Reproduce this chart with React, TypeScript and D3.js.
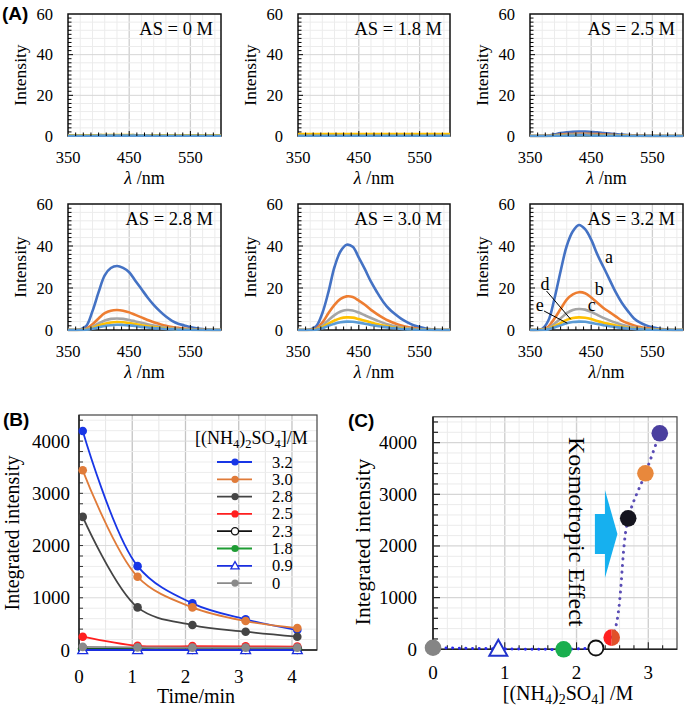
import React from 'react';
import * as d3 from 'd3';

// ---------- DATA ----------
const wavelengths = [350, 360, 370, 380, 390, 400, 410, 420, 430, 440, 450, 460, 470, 480, 490, 500, 510, 520, 530, 540, 550, 560, 570, 580, 590, 600];

// spectra a..e for each ammonium sulfate concentration
const spectraAS0 = [
  [0.3, 0.3, 0.3, 0.3, 0.3, 0.4, 0.4, 0.4, 0.4, 0.4, 0.4, 0.4, 0.3, 0.3, 0.3, 0.3, 0.3, 0.3, 0.3, 0.3, 0.3, 0.3, 0.3, 0.3, 0.3, 0.3],
  [0.2, 0.2, 0.2, 0.2, 0.2, 0.3, 0.3, 0.3, 0.3, 0.3, 0.3, 0.3, 0.2, 0.2, 0.2, 0.2, 0.2, 0.2, 0.2, 0.2, 0.2, 0.2, 0.2, 0.2, 0.2, 0.2],
  [0.2, 0.2, 0.2, 0.2, 0.2, 0.2, 0.2, 0.2, 0.2, 0.2, 0.2, 0.2, 0.2, 0.2, 0.2, 0.2, 0.2, 0.2, 0.2, 0.2, 0.2, 0.2, 0.2, 0.2, 0.2, 0.2],
  [0.3, 0.3, 0.3, 0.3, 0.3, 0.4, 0.5, 0.5, 0.5, 0.5, 0.5, 0.4, 0.4, 0.3, 0.3, 0.3, 0.3, 0.3, 0.3, 0.3, 0.3, 0.3, 0.3, 0.3, 0.3, 0.3],
  [0.1, 0.1, 0.1, 0.1, 0.1, 0.2, 0.2, 0.2, 0.2, 0.2, 0.2, 0.2, 0.2, 0.2, 0.1, 0.1, 0.1, 0.1, 0.1, 0.1, 0.1, 0.1, 0.1, 0.1, 0.1, 0.1],
];
const spectraAS18 = [
  [0.4, 0.4, 0.4, 0.4, 0.4, 0.4, 0.4, 0.4, 0.4, 0.4, 0.4, 0.4, 0.4, 0.4, 0.4, 0.4, 0.4, 0.4, 0.4, 0.4, 0.4, 0.4, 0.4, 0.4, 0.4, 0.4],
  [0.5, 0.5, 0.5, 0.5, 0.5, 0.5, 0.5, 0.5, 0.5, 0.5, 0.5, 0.5, 0.5, 0.5, 0.5, 0.5, 0.5, 0.5, 0.5, 0.5, 0.5, 0.5, 0.5, 0.5, 0.5, 0.5],
  [0.4, 0.4, 0.4, 0.4, 0.4, 0.4, 0.4, 0.4, 0.4, 0.4, 0.4, 0.4, 0.4, 0.4, 0.4, 0.4, 0.4, 0.4, 0.4, 0.4, 0.4, 0.4, 0.4, 0.4, 0.4, 0.4],
  [0.9, 0.9, 0.9, 0.9, 0.9, 0.9, 0.9, 0.9, 0.9, 0.9, 0.9, 0.9, 0.9, 0.9, 0.9, 0.9, 0.9, 0.9, 0.9, 0.9, 0.9, 0.9, 0.9, 0.9, 0.9, 0.9],
  [0.1, 0.1, 0.1, 0.1, 0.1, 0.1, 0.1, 0.1, 0.1, 0.1, 0.1, 0.1, 0.1, 0.1, 0.1, 0.1, 0.1, 0.1, 0.1, 0.1, 0.1, 0.1, 0.1, 0.1, 0.1, 0.1],
];
const spectraAS25 = [
  [0, 0, 0.05, 0.2, 0.8, 1.4, 1.8, 2.1, 2.2, 2.2, 2, 1.8, 1.5, 1.2, 0.9, 0.7, 0.5, 0.3, 0.2, 0.1, 0.05, 0, 0, 0, 0, 0],
  [0, 0, 0, 0.1, 0.4, 0.7, 0.9, 1, 1.1, 1.1, 1, 0.9, 0.7, 0.6, 0.5, 0.3, 0.2, 0.1, 0.1, 0, 0, 0, 0, 0, 0, 0],
  [0, 0, 0, 0, 0.2, 0.4, 0.6, 0.7, 0.7, 0.7, 0.6, 0.5, 0.4, 0.3, 0.2, 0.2, 0.1, 0, 0, 0, 0, 0, 0, 0, 0, 0],
  [0, 0, 0, 0, 0.1, 0.2, 0.3, 0.4, 0.4, 0.4, 0.3, 0.3, 0.2, 0.2, 0.1, 0.1, 0, 0, 0, 0, 0, 0, 0, 0, 0, 0],
  [0, 0, 0, 0, 0.1, 0.1, 0.2, 0.2, 0.3, 0.3, 0.2, 0.2, 0.1, 0.1, 0.1, 0, 0, 0, 0, 0, 0, 0, 0, 0, 0, 0],
];
const spectraAS28 = [
  [0, 0, 0.3, 2, 9, 18, 26, 29.5, 30.5, 29.6, 27.5, 23.5, 19.5, 15.5, 12, 9, 6.4, 4.4, 3, 2.2, 1.4, 0.8, 0.4, 0.2, 0.05, 0],
  [0, 0, 0.1, 0.6, 2.7, 5.5, 8, 9.2, 9.5, 9.2, 8.4, 7.2, 6, 4.8, 3.7, 2.8, 2, 1.4, 1, 0.7, 0.4, 0.2, 0.1, 0, 0, 0],
  [0, 0, 0.05, 0.4, 1.5, 3.1, 4.5, 5.3, 5.5, 5.3, 4.8, 4.1, 3.4, 2.7, 2.1, 1.6, 1.1, 0.8, 0.5, 0.3, 0.2, 0.1, 0, 0, 0, 0],
  [0, 0, 0, 0.2, 1, 2.1, 3, 3.6, 3.8, 3.7, 3.3, 2.8, 2.3, 1.8, 1.4, 1, 0.7, 0.5, 0.3, 0.2, 0.1, 0, 0, 0, 0, 0],
  [0, 0, 0, 0.1, 0.6, 1.3, 1.9, 2.3, 2.5, 2.4, 2.2, 1.9, 1.5, 1.2, 0.9, 0.7, 0.5, 0.3, 0.2, 0.1, 0.1, 0, 0, 0, 0, 0],
];
const spectraAS30 = [
  [0, 0, 0.2, 1.8, 8, 18, 30, 37.5, 40.6, 39.6, 34.5, 29, 23, 18, 13.5, 10, 7.5, 5.3, 3.6, 2.3, 1.4, 0.7, 0.3, 0.1, 0, 0],
  [0, 0, 0.1, 0.7, 3.5, 8, 12, 14.8, 16, 15.7, 14, 12, 9.6, 7.6, 5.8, 4.3, 3.1, 2.1, 1.4, 0.9, 0.5, 0.3, 0.1, 0, 0, 0],
  [0, 0, 0, 0.4, 2, 4.7, 7.1, 8.8, 9.5, 9.3, 8.3, 7, 5.7, 4.5, 3.4, 2.5, 1.8, 1.2, 0.8, 0.5, 0.3, 0.15, 0.05, 0, 0, 0],
  [0, 0, 0, 0.2, 1.3, 3, 4.5, 5.6, 6, 5.9, 5.2, 4.4, 3.6, 2.8, 2.1, 1.6, 1.1, 0.8, 0.5, 0.3, 0.2, 0.1, 0, 0, 0, 0],
  [0, 0, 0, 0.1, 0.8, 2, 3, 3.7, 4, 3.9, 3.5, 3, 2.4, 1.9, 1.5, 1.1, 0.8, 0.5, 0.3, 0.2, 0.1, 0.05, 0, 0, 0, 0],
];
const spectraAS32 = [
  [0, 0, 0.6, 4.5, 15, 28, 40, 47, 50, 48, 43, 36, 30, 24, 18, 13, 9, 5.5, 3.5, 2.2, 1.3, 0.7, 0.3, 0.1, 0, 0],
  [0, 0, 0.2, 1.6, 5.5, 10, 14.5, 17, 18, 17.5, 15.5, 13, 10.5, 8.5, 6.5, 4.5, 3.2, 2.2, 1.4, 0.9, 0.5, 0.3, 0.1, 0, 0, 0],
  [0, 0, 0.1, 0.9, 3, 5.5, 8, 9.5, 10, 9.7, 8.6, 7.2, 5.8, 4.6, 3.5, 2.5, 1.8, 1.2, 0.8, 0.5, 0.3, 0.1, 0, 0, 0, 0],
  [0, 0, 0.05, 0.5, 1.8, 3.3, 4.8, 5.7, 6, 5.8, 5.2, 4.3, 3.5, 2.8, 2.1, 1.5, 1.1, 0.7, 0.5, 0.3, 0.2, 0.1, 0, 0, 0, 0],
  [0, 0, 0, 0.3, 1.2, 2.2, 3.2, 3.8, 4, 3.9, 3.4, 2.9, 2.3, 1.8, 1.4, 1, 0.7, 0.5, 0.3, 0.2, 0.1, 0, 0, 0, 0, 0],
];
const spectraTitles = ['AS = 0 M', 'AS = 1.8 M', 'AS = 2.5 M', 'AS = 2.8 M', 'AS = 3.0 M', 'AS = 3.2 M'];
const spectraXTicks = [350, 450, 550];
const spectraYTicks = [0, 20, 40, 60];
const curveLetters = ['a', 'b', 'c', 'd', 'e'];

// Panel B: integrated intensity vs time
const times = [0.07, 1.1, 2.13, 3.13, 4.1];
const concLabels = ['3.2', '3.0', '2.8', '2.5', '2.3', '1.8', '0.9', '0'];
const intensity32 = [4193, 1606, 893, 587, 382];
const intensity30 = [3441, 1402, 816, 554, 420];
const intensity28 = [2549, 816, 478, 350, 255];
const intensity25 = [255, 80, 75, 70, 65];
const intensity23 = [25, 20, 15, 15, 15];
const intensity18 = [12, 10, 8, 8, 8];
const intensity09 = [0, 0, 0, 0, 0];
const intensity00 = [60, 50, 45, 45, 45];
const bXTicks = [0, 1, 2, 3, 4];
const bYTicks = [0, 1000, 2000, 3000, 4000];

// Panel C: integrated intensity vs (NH4)2SO4 concentration
const cConc = [0, 0.91, 1.82, 2.27, 2.49, 2.72, 2.96, 3.16];
const cIntensity = [30, 10, 0, 25, 226, 2535, 3406, 4181];
const cXTicks = [0, 1, 2, 3];
const cYTicks = [0, 1000, 2000, 3000, 4000];

// ---------- STYLE ----------
const SERIF = "'Liberation Serif', 'Times New Roman', serif";
const SANS = "'Liberation Sans', Arial, sans-serif";
const specColors = ['#4472C4', '#ED7D31', '#A5A5A5', '#FFC000', '#5B9BD5'];
const bColors = ['#1836e6', '#e07b39', '#444444', '#ff1f1f', '#111111', '#1e9c33', '#1a2ee0', '#8a8a8a'];

type PanelProps = {
  id: number; x0: number; x1: number; y0: number; y1: number;
  title: string; series: number[][]; xLabel: string; letters?: boolean;
};

function SpectrumPanel({ id, x0, x1, y0, y1, title, series, xLabel, letters }: PanelProps) {
  const x = d3.scaleLinear().domain([350, 600]).range([x0, x1]);
  const y = d3.scaleLinear().domain([0, 60]).range([y1, y0]);
  const line = d3.line<number>()
    .x((_, i) => x(wavelengths[i]))
    .y((d) => y(d))
    .curve(d3.curveCatmullRom.alpha(0.5));
  const minorX = d3.range(370, 600, 20);
  const minorY = d3.range(4, 60, 4);
  const tickY = d3.range(2, 60, 2);
  const tickX = d3.range(362.5, 600, 12.5);
  const clipId = 'spclip' + id;
  return (
    <g>
      <defs>
        <clipPath id={clipId}>
          <rect x={x0} y={y0} width={x1 - x0} height={y1 - y0 + 1.2} />
        </clipPath>
      </defs>
      <rect x={x0} y={y0} width={x1 - x0} height={y1 - y0} fill="#fff" />
      {minorX.map((v) => (
        <line key={'gx' + v} x1={x(v)} x2={x(v)} y1={y0} y2={y1}
          stroke={v === 450 || v === 550 ? '#cfcfcf' : '#ececec'} strokeWidth={v === 450 || v === 550 ? 1.3 : 1} />
      ))}
      {minorY.map((v) => (
        <line key={'gy' + v} x1={x0} x2={x1} y1={y(v)} y2={y(v)}
          stroke={v % 20 === 0 ? '#d6d6d6' : '#ececec'} strokeWidth={1} />
      ))}
      <rect x={x0} y={y0} width={x1 - x0} height={y1 - y0} fill="none" stroke="#111" strokeWidth={1.5} />
      <g clipPath={`url(#${clipId})`}>
        {series.map((s, i) => (
          <path key={'s' + i} d={line(s) || ''} fill="none" stroke={specColors[i]} strokeWidth={2.6} strokeLinejoin="round" />
        ))}
      </g>
      {tickY.map((v) => (
        <line key={'ty' + v} x1={x0} x2={x0 + (v % 20 === 0 ? 5 : 3.5)} y1={y(v)} y2={y(v)} stroke="#000" strokeWidth={1} />
      ))}
      {tickX.map((v) => (
        <line key={'tx' + v} x1={x(v)} x2={x(v)} y1={y1} y2={y1 - (v % 100 === 50 ? 5 : 3.5)} stroke="#000" strokeWidth={1} />
      ))}
      {spectraYTicks.map((v) => (
        <text key={'ly' + v} x={x0 - 15} y={y(v) + 5.5} textAnchor="end" fontSize={16.5} fontFamily={SERIF}>{v}</text>
      ))}
      {spectraXTicks.map((v) => (
        <text key={'lx' + v} x={x(v)} y={y1 + 27} textAnchor="middle" fontSize={16.5} fontFamily={SERIF}>{v}</text>
      ))}
      <text transform={`translate(${x0 - 42},${(y0 + y1) / 2}) rotate(-90)`} textAnchor="middle" fontSize={17.5} fontFamily={SERIF}>Intensity</text>
      <text x={(x0 + x1) / 2} y={y1 + 48} textAnchor="middle" fontSize={18} fontFamily={SERIF}>
        <tspan fontStyle="italic">λ</tspan>{xLabel}
      </text>
      <text x={x1 - 8} y={y0 + 21} textAnchor="end" fontSize={18.5} fontFamily={SERIF}>{title}</text>
      {letters && (
        <g fontSize={18} fontFamily={SERIF} textAnchor="middle">
          <text x={x(479)} y={y0 + 59}>{curveLetters[0]}</text>
          <text x={x(463)} y={y0 + 91}>{curveLetters[1]}</text>
          <text x={x(451)} y={y0 + 107}>{curveLetters[2]}</text>
          <text x={x(374.5)} y={y0 + 86}>{curveLetters[3]}</text>
          <text x={x(366)} y={y0 + 107}>{curveLetters[4]}</text>
          <line x1={x(377)} y1={y0 + 87} x2={x(416.5)} y2={y(5.1)} stroke="#000" strokeWidth={1} />
          <line x1={x(373)} y1={y0 + 107} x2={x(411)} y2={y(3.2)} stroke="#000" strokeWidth={1} />
        </g>
      )}
    </g>
  );
}

function PanelB() {
  const X0 = 79, X1 = 317, Y0 = 415, Y1 = 650;
  const x = d3.scaleLinear().domain([0, 4.47]).range([X0, X1]);
  const y = d3.scaleLinear().domain([0, 4500]).range([Y1, Y0]);
  const series = [intensity32, intensity30, intensity28, intensity25, intensity23, intensity18, intensity09, intensity00];
  const line = d3.line<number>().x((_, i) => x(times[i])).y((d) => y(d)).curve(d3.curveCatmullRom.alpha(0.5));
  const gridX = d3.range(0.5, 4.47, 0.5);
  const gridY = d3.range(200, 4500, 200);
  const marker = (i: number, cx: number, cy: number, r: number, key: string) => {
    const c = bColors[i];
    if (concLabels[i] === '2.3') return <circle key={key} cx={cx} cy={cy} r={r} fill="#fff" stroke={c} strokeWidth={1.3} />;
    if (concLabels[i] === '0.9') {
      const s = r * 1.15;
      return <polygon key={key} points={`${cx},${cy - s} ${cx - s},${cy + s * 0.75} ${cx + s},${cy + s * 0.75}`} fill="#fff" stroke={c} strokeWidth={1.3} />;
    }
    return <circle key={key} cx={cx} cy={cy} r={r} fill={c} />;
  };
  const legendY = (i: number) => 462 + i * 17.3;
  return (
    <g>
      {gridX.map((v) => (
        <line key={'bgx' + v} x1={x(v)} x2={x(v)} y1={Y0} y2={Y1}
          stroke={Number.isInteger(v) ? '#c4c4c4' : '#e6e6e6'} strokeWidth={Number.isInteger(v) ? 1.3 : 1} />
      ))}
      {gridY.map((v) => (
        <line key={'bgy' + v} x1={X0} x2={X1} y1={y(v)} y2={y(v)}
          stroke={v % 1000 === 0 ? '#dadada' : '#ededed'} strokeWidth={1} />
      ))}
      {gridY.map((v) => (
        <line key={'bty' + v} x1={X0} x2={X0 + 4} y1={y(v)} y2={y(v)} stroke="#333" strokeWidth={1} />
      ))}
      {gridX.map((v) => (
        <line key={'btx' + v} x1={x(v)} x2={x(v)} y1={Y1} y2={Y1 - 4} stroke="#333" strokeWidth={1} />
      ))}
      <rect x={X0} y={Y0} width={X1 - X0} height={Y1 - Y0} fill="none" stroke="#444" strokeWidth={1.2} />
      <line x1={X0} x2={X0} y1={Y0} y2={Y1} stroke="#222" strokeWidth={1.5} />
      <line x1={X0} x2={X1} y1={Y1} y2={Y1} stroke="#222" strokeWidth={1.5} />
      {series.map((s, i) => (
        <g key={'bs' + i}>
          <path d={line(s) || ''} fill="none" stroke={bColors[i]} strokeWidth={1.8} />
          {s.map((v, j) => marker(i, x(times[j]), y(v), 4.3, 'bm' + i + '-' + j))}
        </g>
      ))}
      {bYTicks.map((v) => (
        <text key={'bly' + v} x={X0 - 9} y={y(v) + 6.5} textAnchor="end" fontSize={19} fontFamily={SERIF}>{v}</text>
      ))}
      {bXTicks.map((v) => (
        <text key={'blx' + v} x={x(v)} y={683} textAnchor="middle" fontSize={19} fontFamily={SERIF}>{v}</text>
      ))}
      <text transform={`translate(19,533) rotate(-90)`} textAnchor="middle" fontSize={20} fontFamily={SERIF}>Integrated intensity</text>
      <text x={196} y={703} textAnchor="middle" fontSize={20} fontFamily={SERIF}>Time/min</text>
      <text x={195} y={444} fontSize={18} fontFamily={SERIF}>
        [(NH<tspan dy={4} fontSize={12.5}>4</tspan><tspan dy={-4}>)</tspan><tspan dy={4} fontSize={12.5}>2</tspan><tspan dy={-4}>SO</tspan><tspan dy={4} fontSize={12.5}>4</tspan><tspan dy={-4}>]/M</tspan>
      </text>
      {concLabels.map((lab, i) => (
        <g key={'leg' + i}>
          <line x1={217} x2={252} y1={legendY(i)} y2={legendY(i)} stroke={bColors[i]} strokeWidth={1.8} />
          {marker(i, 235, legendY(i), 3.6, 'lm' + i)}
          <text x={272} y={legendY(i) + 5.5} fontSize={16.5} fontFamily={SERIF}>{lab}</text>
        </g>
      ))}
    </g>
  );
}

function PanelC() {
  const X0 = 433, X1 = 677, Y0 = 416.8, Y1 = 649.3;
  const x = d3.scaleLinear().domain([0, 3.4]).range([X0, X1]);
  const y = d3.scaleLinear().domain([0, 4500]).range([Y1, Y0]);
  const gridX = d3.range(0.2, 3.39, 0.2);
  const gridY = d3.range(200, 4500, 200);
  const pts = cConc.map((c, i) => [c, cIntensity[i]] as [number, number]);
  const line = d3.line<[number, number]>().x((d) => x(d[0])).y((d) => y(d[1])).curve(d3.curveCatmullRom.alpha(0.5));
  const low = pts.slice(0, 4);
  const high = pts.slice(3);
  const r = 8.3;
  const arrow: [number, number][] = [
    [2.256, 2619], [2.396, 2619], [2.396, 3083], [2.57, 2232], [2.396, 1380], [2.396, 1845], [2.256, 1845],
  ];
  const isMajor = (v: number) => Math.abs(v - Math.round(v)) < 1e-6;
  return (
    <g>
      {gridX.map((v) => (
        <line key={'cgx' + v} x1={x(v)} x2={x(v)} y1={Y0} y2={Y1}
          stroke={isMajor(v) ? '#d0d0d0' : '#ebebeb'} strokeWidth={isMajor(v) ? 1.4 : 1} />
      ))}
      {gridY.map((v) => (
        <line key={'cgy' + v} x1={X0} x2={X1} y1={y(v)} y2={y(v)}
          stroke={v % 1000 === 0 ? '#d6d6d6' : '#ebebeb'} strokeWidth={v % 1000 === 0 ? 1.3 : 1} />
      ))}
      {gridY.map((v) => (
        <line key={'cty' + v} x1={X0} x2={X0 + (v % 1000 === 0 ? 7 : 5)} y1={y(v)} y2={y(v)} stroke="#222" strokeWidth={1.2} />
      ))}
      {gridX.map((v) => (
        <line key={'ctx' + v} x1={x(v)} x2={x(v)} y1={Y1} y2={Y1 - (isMajor(v) ? 7 : 4)} stroke="#222" strokeWidth={1.1} />
      ))}
      <rect x={X0} y={Y0} width={X1 - X0} height={Y1 - Y0} fill="none" stroke="#444" strokeWidth={1.2} />
      <line x1={X0} x2={X0} y1={Y0} y2={Y1} stroke="#222" strokeWidth={1.6} />
      <line x1={X0} x2={X1} y1={Y1} y2={Y1} stroke="#222" strokeWidth={1.6} />
      <polygon points={arrow.map((p) => `${x(p[0])},${y(p[1])}`).join(' ')} fill="#16b0ef" />
      <text transform={`translate(569,437) rotate(90)`} fontSize={24} fontFamily={SERIF}>Kosmotropic Effect</text>
      <path d={line(low) || ''} fill="none" stroke="#2b2bf2" strokeWidth={3} strokeDasharray="0.1 6.5" strokeLinecap="round" />
      <path d={line(high) || ''} fill="none" stroke="#5a4db5" strokeWidth={3} strokeDasharray="0.1 6.5" strokeLinecap="round" />
      <circle cx={x(cConc[0])} cy={y(cIntensity[0])} r={r} fill="#858585" />
      <polygon
        points={`${x(cConc[1])},${y(cIntensity[1]) - 9} ${x(cConc[1]) - 9},${y(cIntensity[1]) + 7} ${x(cConc[1]) + 9},${y(cIntensity[1]) + 7}`}
        fill="#fff" stroke="#2233cc" strokeWidth={2} />
      <circle cx={x(cConc[2])} cy={y(cIntensity[2])} r={r} fill="#1aaf4f" />
      <circle cx={x(cConc[3])} cy={y(cIntensity[3])} r={7.5} fill="#fff" stroke="#111" strokeWidth={1.8} />
      <path d={`M${x(cConc[4])},${y(cIntensity[4]) - r} A${r},${r} 0 0 0 ${x(cConc[4])},${y(cIntensity[4]) + r} Z`} fill="#ff2020" />
      <path d={`M${x(cConc[4])},${y(cIntensity[4]) - r} A${r},${r} 0 0 1 ${x(cConc[4])},${y(cIntensity[4]) + r} Z`} fill="#e0502a" />
      <circle cx={x(cConc[5])} cy={y(cIntensity[5])} r={r} fill="#15151f" />
      <circle cx={x(cConc[6])} cy={y(cIntensity[6])} r={r} fill="#e8883c" />
      <circle cx={x(cConc[7])} cy={y(cIntensity[7])} r={r} fill="#4a3f9f" />
      {cYTicks.map((v) => (
        <text key={'cly' + v} x={X0 - 16} y={y(v) + 6.5} textAnchor="end" fontSize={19} fontFamily={SERIF}>{v}</text>
      ))}
      {cXTicks.map((v) => (
        <text key={'clx' + v} x={x(v)} y={679} textAnchor="middle" fontSize={19} fontFamily={SERIF}>{v}</text>
      ))}
      <text transform={`translate(370,542) rotate(-90)`} textAnchor="middle" fontSize={21.5} fontFamily={SERIF}>Integrated intensity</text>
      <text x={568} y={700} textAnchor="middle" fontSize={20} fontFamily={SERIF}>
        [(NH<tspan dy={4} fontSize={14}>4</tspan><tspan dy={-4}>)</tspan><tspan dy={4} fontSize={14}>2</tspan><tspan dy={-4}>SO</tspan><tspan dy={4} fontSize={14}>4</tspan><tspan dy={-4}>] /M</tspan>
      </text>
    </g>
  );
}

export default function App() {
  const cols = [[68, 221], [298, 450], [530, 683]];
  const rows = [[14, 136], [204, 330]];
  const allSpectra = [spectraAS0, spectraAS18, spectraAS25, spectraAS28, spectraAS30, spectraAS32];
  return (
    <svg width={685} height={707} viewBox="0 0 685 707" style={{ position: 'absolute', left: 0, top: 0, background: '#fff' }}>
      <rect x={0} y={0} width={685} height={707} fill="#fff" />
      {allSpectra.map((s, k) => {
        const c = cols[k % 3];
        const r = rows[Math.floor(k / 3)];
        return (
          <SpectrumPanel key={k} id={k} x0={c[0]} x1={c[1]} y0={r[0]} y1={r[1]}
            title={spectraTitles[k]} series={s} xLabel={k === 5 ? '/nm' : ' /nm'} letters={k === 5} />
        );
      })}
      <PanelB />
      <PanelC />
      <text x={2} y={20} fontSize={19} fontWeight="bold" fontFamily={SANS}>(A)</text>
      <text x={3} y={426} fontSize={19} fontWeight="bold" fontFamily={SANS}>(B)</text>
      <text x={348} y={427} fontSize={19} fontWeight="bold" fontFamily={SANS}>(C)</text>
    </svg>
  );
}
